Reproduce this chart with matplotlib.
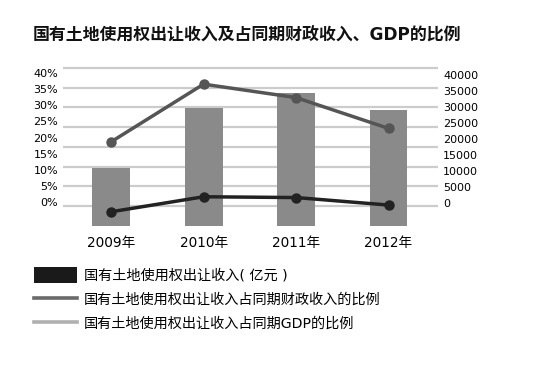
import matplotlib
matplotlib.use("Agg")
import matplotlib.pyplot as plt
from matplotlib.patches import Patch
from matplotlib.lines import Line2D

plt.rcParams['font.family'] = ['DejaVu Sans', 'Noto Sans CJK SC']

# ---- data ----
years = ['2009年', '2010年', '2011年', '2012年']
revenue = [14800, 29900, 33700, 29400]          # 亿元
fiscal_ratio = [21.3, 35.9, 32.5, 24.7]          # %
gdp_ratio = [3.6, 7.4, 7.2, 5.3]                 # %
pct_ticks = [0, 5, 10, 15, 20, 25, 30, 35, 40]
rev_ticks = [0, 5000, 10000, 15000, 20000, 25000, 30000, 35000, 40000]
title = '国有土地使用权出让收入及占同期财政收入、GDP的比例'
legend_labels = ['国有土地使用权出让收入( 亿元 )',
                 '国有土地使用权出让收入占同期财政收入的比例',
                 '国有土地使用权出让收入占同期GDP的比例']

W, H = 537, 373
fig = plt.figure(figsize=(W / 100, H / 100), dpi=100)
fig.patch.set_facecolor('white')

L, R, T, B = 63, 438, 64, 226
rect = [L / W, (H - B) / H, (R - L) / W, (B - T) / H]

ax = fig.add_axes(rect)
x = list(range(len(years)))
ax.bar(x, revenue, width=0.41, color='#8a8a8a', zorder=2)
ax.set_ylim(0, 41000)
ax.set_xlim(-0.52, 3.535)
ax.set_yticks(rev_ticks[1:])
ax.yaxis.grid(True, color='#cccccc', linewidth=1.6, zorder=0)
ax.set_axisbelow(True)
ax.tick_params(axis='y', length=0, labelleft=False)
ax.set_xticks(x)
ax.set_xticklabels(years, fontsize=9.8)
ax.tick_params(axis='x', length=0, pad=7.5)
for s in ax.spines.values():
    s.set_visible(False)

ax2 = ax.twinx()
ax2.set_ylim(0, 41)
ax2.plot(x, fiscal_ratio, color='#555555', lw=2.5, marker='o', ms=6.5, zorder=3)
ax2.plot(x, gdp_ratio, color='#222222', lw=2.5, marker='o', ms=6.5, zorder=3)
ax2.set_yticks([])
for s in ax2.spines.values():
    s.set_visible(False)

# tick label axes (labels are offset from gridlines in the reference)
axL = fig.add_axes(rect, frameon=False)
axL.set_ylim(-7.57, 42.9)
axL.set_yticks(pct_ticks)
axL.set_yticklabels([f'{v}%' for v in pct_ticks], fontsize=8)
axL.tick_params(axis='y', length=0, pad=3.6)
axL.set_xticks([])
axL.patch.set_visible(False)

axR = axL.twinx()
axR.set_ylim(-7078, 43433)
axR.set_yticks(rev_ticks)
axR.set_yticklabels([str(v) for v in rev_ticks], fontsize=8)
axR.tick_params(axis='y', length=0, pad=3.6)
for s in axR.spines.values():
    s.set_visible(False)

fig.text(33 / W, 1 - 35 / H, title, fontsize=12.2, fontweight='bold',
         ha='left', va='center', color='#111111')

handles = [Patch(facecolor='#1a1a1a', edgecolor='none'),
           Line2D([], [], color='#6a6a6a', lw=2.6),
           Line2D([], [], color='#b0b0b0', lw=2.6)]
fig.legend(handles, legend_labels, loc='upper left',
           bbox_to_anchor=(34 / W, 1 - 267 / H), frameon=False,
           borderpad=0, borderaxespad=0, handlelength=3.0, handleheight=1.33,
           handletextpad=0.5, labelspacing=0.6, fontsize=10.2)

fig.savefig('out.png', dpi=100, facecolor='white')
